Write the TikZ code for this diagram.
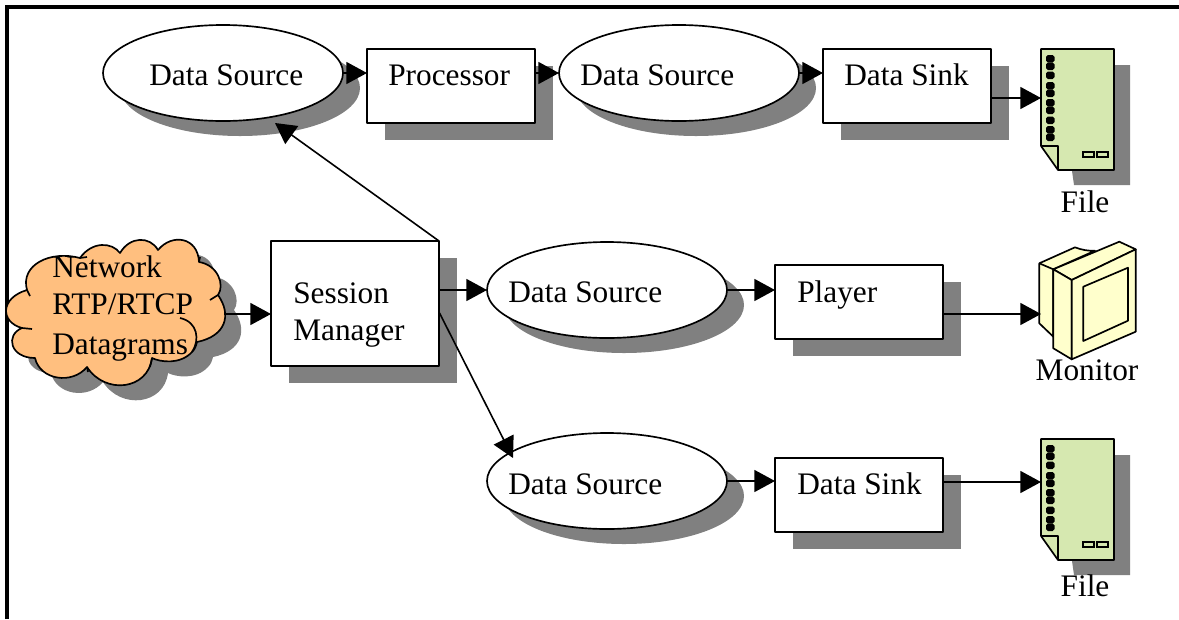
\documentclass[tikz,border=0pt]{standalone}
\usepackage{fontspec}
\setmainfont{Liberation Serif}
\usetikzlibrary{shapes.geometric,arrows.meta,shadows}

\definecolor{shadowgray}{HTML}{808080}
\definecolor{cloudfill}{HTML}{FFBF7F}
\definecolor{filefill}{HTML}{D6E8B0}
\definecolor{monitorfill}{HTML}{FFFFCC}

\tikzset{
  % 1 unit = 1 reference pixel
  inkline/.style={draw=black, line width=1.25pt, line join=round},
  sourceoval/.style={ellipse, inkline, fill=white, minimum width=180pt, minimum height=72pt, inner sep=0pt, outer sep=0pt,
    drop shadow={shadow xshift=12.75pt, shadow yshift=-11.25pt, fill=shadowgray, opacity=1}},
  stagebox/.style={rectangle, inkline, fill=white, minimum width=126pt, minimum height=55.5pt, inner sep=0pt, outer sep=0pt,
    drop shadow={shadow xshift=13.5pt, shadow yshift=-13pt, fill=shadowgray, opacity=1}},
  lbl/.style={anchor=base west, inner sep=0pt, font=\fontsize{23.5}{28}\selectfont},
  lblmid/.style={anchor=base, inner sep=0pt, font=\fontsize{23.5}{28}\selectfont},
  flow/.style={line width=1.2pt, -{Triangle[length=15.5pt, width=16.5pt]}},
  pics/datafile/.style={code={
    \fill[shadowgray] (1057,65) -- (1130,65) -- (1130,185) -- (1074,185) -- cycle;
    \draw[inkline, fill=filefill] (1041,49) -- (1114,49) -- (1114,170) -- (1058,170) -- (1041,146) -- cycle;
    \draw[inkline] (1041,146) -- (1058,146) -- (1058,170);
    % binding holes
    \foreach \y in {55,62.5,71.5,82,89.5,99,106.5,116.5,126,133.5}
      \fill[black, rounded corners=1.4pt] (1046,\y) rectangle (1054.5,\y+7.5);
    \draw[line width=1.25pt, fill=filefill] (1083,152) rectangle (1094,157);
    \draw[line width=1.25pt, fill=filefill] (1097,152) rectangle (1108,157);
  }}
}

\newcommand{\cloudoutline}{
  (27,290) .. controls (20,265) and (50,250) .. (80,258)
  .. controls (92,241) and (112,242) .. (120,253)
  .. controls (130,236) and (150,236) .. (158,250)
  .. controls (172,233) and (198,237) .. (199,262)
  .. controls (218,265) and (225,285) .. (218,295)
  .. controls (232,315) and (226,336) .. (197,342)
  .. controls (196,346) and (195,349) .. (192,352)
  .. controls (180,365) and (160,362) .. (152,358)
  .. controls (148,390) and (105,395) .. (87,367)
  .. controls (72,385) and (40,380) .. (35,358)
  .. controls (10,358) and (5,335) .. (22,328)
  .. controls (0,322) and (0,298) .. (27,290) -- cycle
}

\begin{document}
\begin{tikzpicture}[x=0.75pt, y=-0.75pt]
    \useasboundingbox (0,0) rectangle (1179,619);

    % Frame, open at right and bottom
    \draw[line width=2.4pt] (7,619) -- (7,7) -- (1179,7);

    % Network cloud
    \fill[shadowgray, shift={(16,15)}] \cloudoutline;
    \draw[inkline, fill=cloudfill] \cloudoutline;
    \draw[inkline] (27,290) -- (30,296);
    \draw[inkline] (80,258) -- (87,257);
    \draw[inkline] (199,262) -- (200,257);
    \draw[inkline] (210,300) -- (218,295);
    \draw[inkline] (22,328) -- (32,329);
    \draw[inkline] (180,318) .. controls (198,322) and (200,340) .. (192,352);
    \draw[inkline] (87,367) -- (88,372);
    \draw[inkline] (152,358) -- (150,367);
    \node[lbl] (nettop) at (52,277) {Network};
    \node[lbl] (netmid) at (52,314) {RTP/RTCP};
    \node[lbl] (netlow) at (52,354) {Datagrams};
    \coordinate (cloudout) at (224,314);

    % Data sources
    \foreach \name/\cx/\cy/\tx/\ty in {
        dsa/223/73/149/85,
        dsb/679/73/580/85,
        dsc/607/290/508/302,
        dsd/607/481/508/494
    } {
        \node[sourceoval] (\name) at (\cx,\cy) {};
        \node[lbl] (\name txt) at (\tx,\ty) {Data Source};
    }

    % Stages
    \foreach \name/\cx/\cy/\tx/\ty/\word in {
        proc/451/86/388/85/Processor,
        sinka/907/86/844/85/{Data Sink},
        player/859/302/797/302/Player,
        sinkb/859/495/797/494/{Data Sink}
    } {
        \node[stagebox] (\name) at (\cx,\cy) {};
        \node[lbl] (\name txt) at (\tx,\ty) {\word};
    }

    % Session manager
    \node[stagebox, minimum height=93.75pt] (session) at (355,303.5) {};
    \node[lbl] (sessiontop) at (293,303) {Session};
    \node[lbl] (sessionlow) at (293,340) {Manager};

    % Files
    \pic at (0,0) {datafile};
    \pic at (0,390) {datafile};
    \node[lblmid] (filea) at (1085,212) {File};
    \node[lblmid] (fileb) at (1085,596) {File};
    \coordinate (fileain) at (1041,98);
    \coordinate (filebin) at (1041,482);

    % Monitor
    \begin{scope}[inkline, fill=monitorfill]
        \filldraw (1039.3,263.3) -- (1075,247.3) .. controls (1082,250) and (1088,251) .. (1095,250.7) -- (1053.3,269.3) -- (1053.3,336.7) -- (1039.3,323.3) -- cycle;
        \draw (1039.3,263.3) -- (1053.3,269.3);
        \filldraw (1053.3,269.3) -- (1119.3,241.7) -- (1135.7,249.3) -- (1071.7,280) -- cycle;
        \filldraw (1053.3,269.3) -- (1071.7,280) -- (1071.7,359.3) -- (1053.3,348.3) -- cycle;
        \filldraw (1071.7,280) -- (1135.7,249.3) -- (1135.7,331.7) -- (1071.7,359.3) -- cycle;
        \filldraw (1083.3,286.7) -- (1128,267.7) -- (1128,320.7) -- (1083.3,341) -- cycle;
    \end{scope}
    \node[lblmid] (monitor) at (1087,380) {Monitor};
    \coordinate (monitorin) at (1041,314);

    % Connectors
    \coordinate (dsafoot) at (275,123);
    \coordinate (dsdtop) at (513,458);
    \coordinate (sessionfork) at (439.5,313);
    \draw[flow] (dsa.east) -- (dsa.east -| proc.west);
    \draw[flow] (proc.east |- dsb.west) -- (dsb.west);
    \draw[flow] (dsb.east) -- (dsb.east -| sinka.west);
    \draw[flow] (sinka.east |- fileain) -- (fileain);
    \draw[flow] (cloudout) -- (cloudout -| session.west);
    \draw[flow] (session.north east) -- (dsafoot);
    \draw[flow] (session.east |- dsc.west) -- (dsc.west);
    \draw[flow] (sessionfork) -- (dsdtop);
    \draw[flow] (dsc.east) -- (dsc.east -| player.west);
    \draw[flow] (player.east |- monitorin) -- (monitorin);
    \draw[flow] (dsd.east) -- (dsd.east -| sinkb.west);
    \draw[flow] (sinkb.east |- filebin) -- (filebin);
\end{tikzpicture}
\end{document}
